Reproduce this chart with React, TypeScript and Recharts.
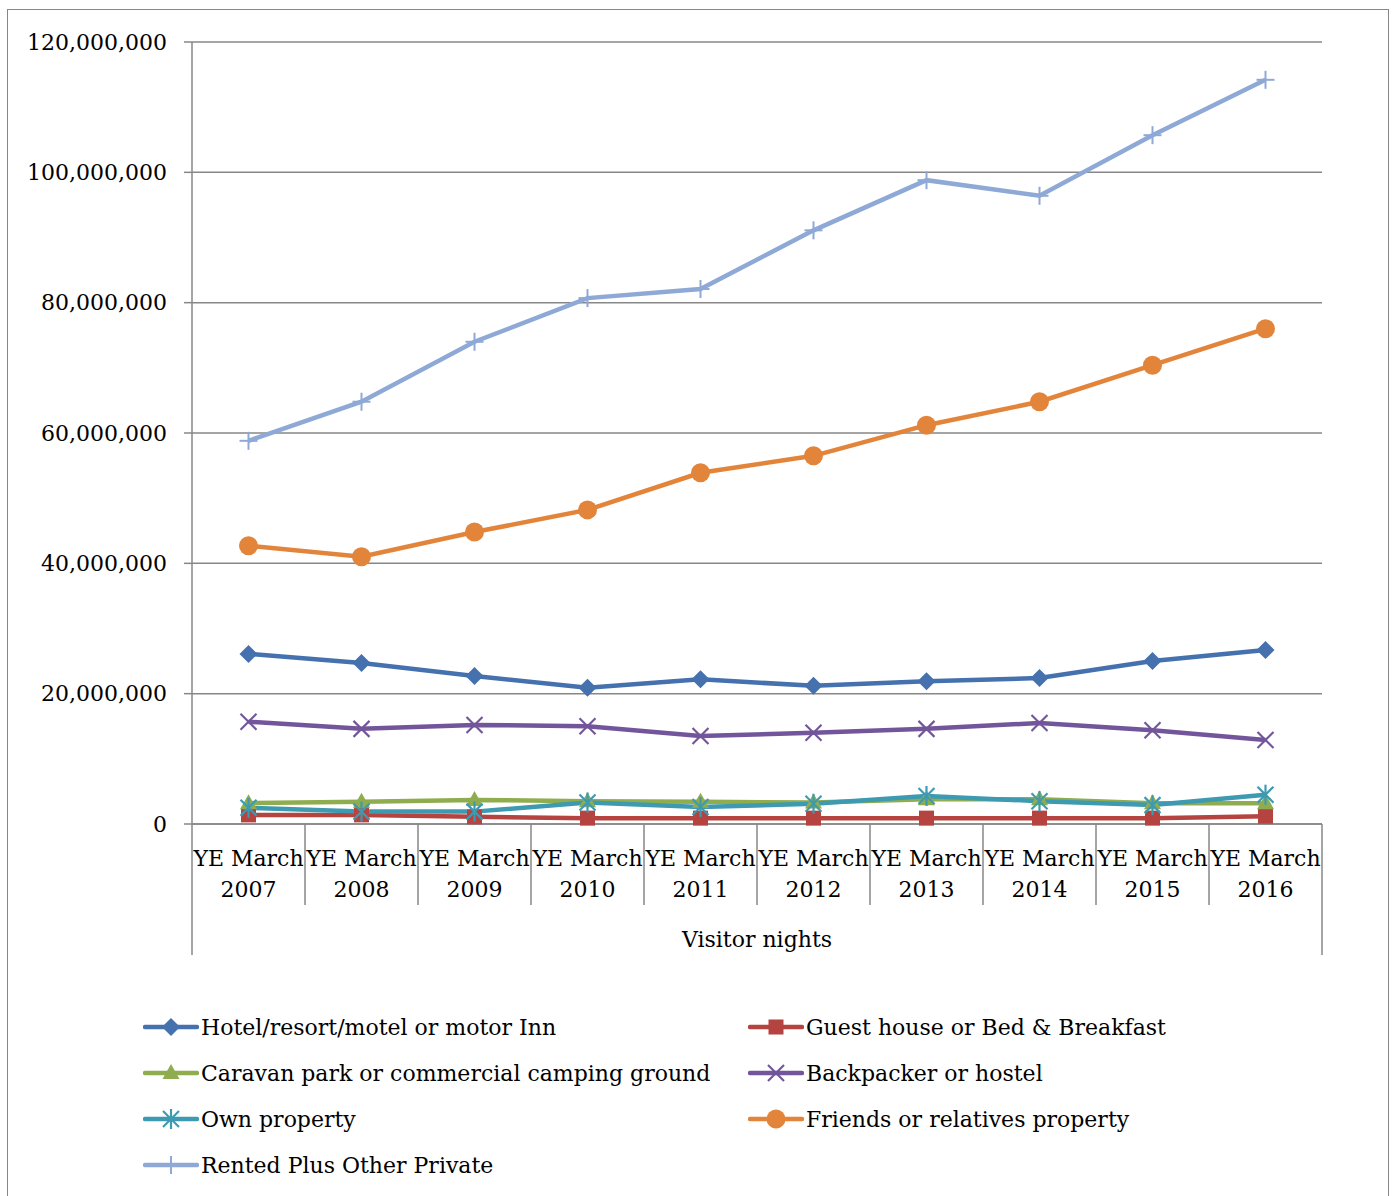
import React from 'react';
import { LineChart, Line, XAxis, YAxis, CartesianGrid, Legend } from 'recharts';

// Visitor nights by accommodation type, year ended March
const years = ['2007', '2008', '2009', '2010', '2011', '2012', '2013', '2014', '2015', '2016'];

const hotel = [26.1, 24.7, 22.7, 20.9, 22.2, 21.2, 21.9, 22.4, 25.0, 26.7];
const guestHouse = [1.4, 1.4, 1.1, 0.9, 0.9, 0.9, 0.9, 0.9, 0.9, 1.2];
const caravan = [3.2, 3.4, 3.7, 3.5, 3.4, 3.3, 3.8, 3.8, 3.2, 3.2];
const backpacker = [15.7, 14.6, 15.2, 15.0, 13.5, 14.0, 14.6, 15.5, 14.4, 12.9];
const ownProperty = [2.5, 1.9, 1.9, 3.3, 2.6, 3.1, 4.3, 3.5, 2.9, 4.5];
const friends = [42.7, 41.0, 44.8, 48.2, 53.9, 56.5, 61.2, 64.8, 70.4, 76.0];
const rented = [58.8, 64.8, 74.0, 80.7, 82.1, 91.1, 98.8, 96.4, 105.7, 114.2];

const yTicks = [0, 20000000, 40000000, 60000000, 80000000, 100000000, 120000000];

const M = 1000000;
const data = years.map((y, i) => ({
  year: y,
  hotel: hotel[i] * M,
  guest: guestHouse[i] * M,
  caravan: caravan[i] * M,
  backpacker: backpacker[i] * M,
  own: ownProperty[i] * M,
  friends: friends[i] * M,
  rented: rented[i] * M,
}));

const FONT = '"DejaVu Serif", "Liberation Serif", serif';
const FONT_SIZE = 22;
const AXIS_GREY = '#878787';

type MarkerKind = 'diamond' | 'square' | 'triangle' | 'x' | 'star' | 'circle' | 'plus';

const series: { key: string; name: string; color: string; marker: MarkerKind }[] = [
  { key: 'hotel', name: 'Hotel/resort/motel or motor Inn', color: '#4571AE', marker: 'diamond' },
  { key: 'guest', name: 'Guest house or Bed & Breakfast', color: '#B5433F', marker: 'square' },
  { key: 'caravan', name: 'Caravan park or commercial camping ground', color: '#8FAD4F', marker: 'triangle' },
  { key: 'backpacker', name: 'Backpacker or hostel', color: '#72559A', marker: 'x' },
  { key: 'own', name: 'Own property', color: '#3D9AB1', marker: 'star' },
  { key: 'friends', name: 'Friends or relatives property', color: '#E3843B', marker: 'circle' },
  { key: 'rented', name: 'Rented Plus Other Private', color: '#8EA9D6', marker: 'plus' },
];

function Marker({ kind, cx, cy, color }: { kind: MarkerKind; cx: number; cy: number; color: string }) {
  switch (kind) {
    case 'diamond':
      return <polygon points={`${cx},${cy - 9} ${cx + 9},${cy} ${cx},${cy + 9} ${cx - 9},${cy}`} fill={color} />;
    case 'square':
      return <rect x={cx - 7.5} y={cy - 7.5} width={15} height={15} fill={color} />;
    case 'triangle':
      return <polygon points={`${cx},${cy - 9} ${cx + 8.5},${cy + 6} ${cx - 8.5},${cy + 6}`} fill={color} />;
    case 'x':
      return (
        <g stroke={color} strokeWidth={2.2}>
          <line x1={cx - 8} y1={cy - 8} x2={cx + 8} y2={cy + 8} />
          <line x1={cx - 8} y1={cy + 8} x2={cx + 8} y2={cy - 8} />
        </g>
      );
    case 'star':
      return (
        <g stroke={color} strokeWidth={2.2}>
          <line x1={cx - 8} y1={cy - 8} x2={cx + 8} y2={cy + 8} />
          <line x1={cx - 8} y1={cy + 8} x2={cx + 8} y2={cy - 8} />
          <line x1={cx} y1={cy - 10} x2={cx} y2={cy + 10} />
        </g>
      );
    case 'circle':
      return <circle cx={cx} cy={cy} r={9.5} fill={color} />;
    case 'plus':
    default:
      return (
        <g stroke={color} strokeWidth={2}>
          <line x1={cx - 9} y1={cy} x2={cx + 9} y2={cy} />
          <line x1={cx} y1={cy - 9} x2={cx} y2={cy + 9} />
        </g>
      );
  }
}

const makeDot = (kind: MarkerKind, color: string) => (props: any) => {
  const { cx, cy, index } = props;
  if (cx == null || cy == null) return <g key={`d-${index}`} />;
  return (
    <g key={`d-${kind}-${index}`}>
      <Marker kind={kind} cx={cx} cy={cy} color={color} />
    </g>
  );
};

const fmt = (v: number) => v.toLocaleString('en-US');

// Two-line category label with the separators of an Excel-style category axis
const CategoryTick = (props: any) => {
  const { x, y, payload, index, visibleTicksCount } = props;
  const half = 56.5;
  const count = visibleTicksCount ?? years.length;
  const top = y - 8;
  return (
    <g>
      {index === 0 && <line x1={x - half} y1={top} x2={x - half} y2={top + 131} stroke={AXIS_GREY} strokeWidth={1.5} />}
      <line
        x1={x + half}
        y1={top}
        x2={x + half}
        y2={index === count - 1 ? top + 131 : top + 81}
        stroke={AXIS_GREY}
        strokeWidth={1.5}
      />
      <text x={x} y={top + 42} textAnchor="middle" fontFamily={FONT} fontSize={FONT_SIZE} fill="#000">
        YE March
      </text>
      <text x={x} y={top + 73} textAnchor="middle" fontFamily={FONT} fontSize={FONT_SIZE} fill="#000">
        {payload.value}
      </text>
    </g>
  );
};

const LegendIcon = ({ kind, color }: { kind: MarkerKind; color: string }) => (
  <svg width={56} height={24} style={{ display: 'block' }}>
    <line x1={2} y1={12} x2={54} y2={12} stroke={color} strokeWidth={4.5} strokeLinecap="round" />
    <Marker kind={kind} cx={28} cy={12} color={color} />
  </svg>
);

const renderLegend = () => (
  <div style={{ position: 'relative', width: 1396, height: 190, fontFamily: FONT, fontSize: FONT_SIZE, color: '#000' }}>
    {series.map((s, i) => {
      const col = i % 2;
      const row = Math.floor(i / 2);
      return (
        <div
          key={s.key}
          style={{
            position: 'absolute',
            left: col === 0 ? 143 : 748,
            top: row * 46,
            height: 44,
            display: 'flex',
            alignItems: 'center',
            whiteSpace: 'nowrap',
          }}
        >
          <LegendIcon kind={s.marker} color={s.color} />
          <span style={{ marginLeft: 2 }}>{s.name}</span>
        </div>
      );
    })}
  </div>
);

export default function App() {
  return (
    <div style={{ position: 'absolute', left: 0, top: 0, width: 1396, height: 1196, background: '#fff', overflow: 'hidden' }}>
      <div
        style={{
          position: 'absolute',
          left: 7,
          top: 9,
          width: 1382,
          height: 1210,
          border: `1.5px solid ${AXIS_GREY}`,
          boxSizing: 'border-box',
        }}
      />
      <LineChart
        width={1396}
        height={1196}
        data={data}
        margin={{ top: 42, right: 74, bottom: 51, left: 22 }}
        style={{ position: 'absolute', left: 0, top: 0 }}
      >
        <CartesianGrid horizontal vertical={false} stroke={AXIS_GREY} strokeWidth={1.5} />
        <XAxis
          dataKey="year"
          interval={0}
          padding={{ left: 56.5, right: 56.5 }}
          axisLine={{ stroke: AXIS_GREY, strokeWidth: 1.5 }}
          tickLine={false}
          tick={<CategoryTick />}
          height={131}
          label={{ value: 'Visitor nights', position: 'insideBottom', offset: 8, fontFamily: FONT, fontSize: FONT_SIZE, fill: '#000' }}
        />
        <YAxis
          width={170}
          domain={[0, 120000000]}
          ticks={yTicks}
          interval={0}
          tickFormatter={fmt}
          axisLine={{ stroke: AXIS_GREY, strokeWidth: 1.5 }}
          tickLine={{ stroke: AXIS_GREY, strokeWidth: 1.5 }}
          tickSize={8}
          tickMargin={17}
          tick={{ fontFamily: FONT, fontSize: FONT_SIZE, fill: '#000' }}
        />
        <Legend
          verticalAlign="bottom"
          content={renderLegend}
          wrapperStyle={{ position: 'absolute', left: 0, top: 1005, width: 1396, height: 190 }}
        />
        {series.map((s) => (
          <Line
            key={s.key}
            type="linear"
            dataKey={s.key}
            name={s.name}
            stroke={s.color}
            strokeWidth={4.5}
            dot={makeDot(s.marker, s.color)}
            activeDot={false}
            isAnimationActive={false}
          />
        ))}
      </LineChart>
    </div>
  );
}
